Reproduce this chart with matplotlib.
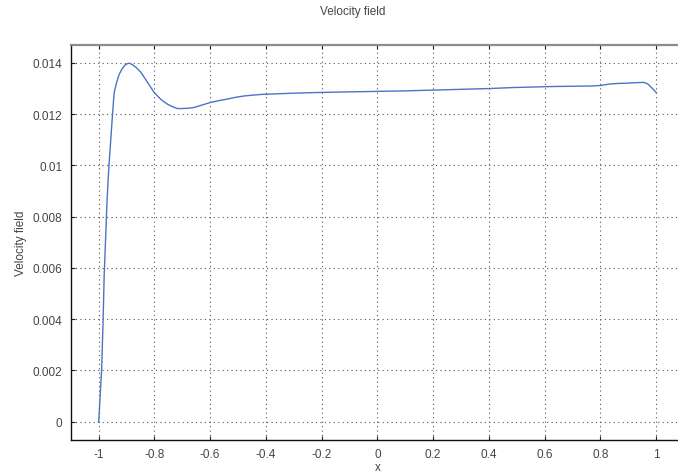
import matplotlib
matplotlib.use("Agg")
import matplotlib.pyplot as plt
import numpy as np

# velocity profile across the channel
x = [-1.0, -0.999, -0.994, -0.989, -0.984, -0.98, -0.975, -0.97, -0.966, -0.962,
     -0.957, -0.953, -0.948, -0.944, -0.935, -0.926, -0.915, -0.905, -0.895, -0.89,
     -0.88, -0.865, -0.848, -0.825, -0.801, -0.777, -0.753, -0.73, -0.717, -0.705,
     -0.68, -0.658, -0.628, -0.598, -0.568, -0.538, -0.508, -0.478, -0.45, -0.419,
     -0.35, -0.3, -0.2, -0.1, 0.0, 0.1, 0.2, 0.3, 0.4, 0.488, 0.56, 0.63, 0.7,
     0.77, 0.8, 0.835, 0.865, 0.895, 0.93, 0.956, 0.97, 0.985, 1.0]
v = [0.0, 0.0001, 0.0011, 0.00205, 0.0039, 0.00569, 0.0071, 0.00855, 0.0094, 0.01012,
     0.0109, 0.01154, 0.0123, 0.01285, 0.01325, 0.01356, 0.01378, 0.01392, 0.01398, 0.01399,
     0.01394, 0.01382, 0.01363, 0.01325, 0.01285, 0.01258, 0.01239, 0.01227, 0.01222, 0.01222,
     0.01223, 0.01226, 0.01236, 0.01246, 0.01253, 0.01259, 0.01266, 0.01271, 0.01274, 0.01277,
     0.0128, 0.01282, 0.01285, 0.01287, 0.01289, 0.01291, 0.01294, 0.01297, 0.013, 0.01304,
     0.01306, 0.01308, 0.01309, 0.0131, 0.01312, 0.01318, 0.0132, 0.01321, 0.01323, 0.01324,
     0.01318, 0.01302, 0.01285]

xticks = [-1, -0.8, -0.6, -0.4, -0.2, 0, 0.2, 0.4, 0.6, 0.8, 1]
yticks = [0, 0.002, 0.004, 0.006, 0.008, 0.01, 0.012, 0.014]
ytick_labels = ["0", "0.002", "0.004", "0.006", "0.008", "0.01", "0.012", "0.014"]

plt.rcParams['font.family'] = ['Liberation Sans', 'DejaVu Sans']
txt = '#454545'

fig = plt.figure(figsize=(6.78, 4.77), dpi=100)
ax = fig.add_axes([0.1043, 0.0761, 0.9046, 0.8275])

ax.plot(x, v, color='#4a74c6', lw=1.0)

ax.set_xlim(-1.1, 1.1)
ax.set_ylim(-0.0007, 0.0147)
ax.set_xticks(xticks)
ax.set_xticklabels([f"{t:g}" for t in xticks])
ax.set_yticks(yticks)
ax.set_yticklabels(ytick_labels)
ax.tick_params(direction='in', length=3, width=0.8, labelsize=8.5,
               colors='#202020', labelcolor=txt, top=True, right=False, pad=6)
ax.grid(True, linestyle=(0, (1, 3)), color='#555555', lw=0.8)

ax.spines['top'].set_color('#8c8c8c')
ax.spines['top'].set_linewidth(1.6)
ax.spines['right'].set_visible(False)
for s in ('left', 'bottom'):
    ax.spines[s].set_color('#101010')
    ax.spines[s].set_linewidth(1.0)

ax.set_xlabel('x', fontsize=8.5, color=txt, labelpad=1)
ax.set_ylabel('Velocity field', fontsize=8.5, color=txt, labelpad=4)
fig.text(0.52, 1 - 12 / 477, 'Velocity field', ha='center', va='center',
         fontsize=8.5, color=txt)

fig.savefig('out.png', dpi=100)
